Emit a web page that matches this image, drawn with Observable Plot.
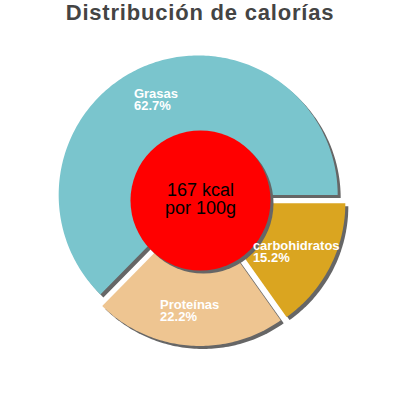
<!DOCTYPE html>
<html>
<head>
<meta charset="utf-8">
<script src="https://cdn.jsdelivr.net/npm/d3@7"></script>
<script src="https://cdn.jsdelivr.net/npm/@observablehq/plot@0.6"></script>
<style>
  html, body { margin: 0; padding: 0; background: #fff; }
  #title { height: 33px; line-height: 33px; text-align: center; font: bold 22px "Liberation Sans", Arial, sans-serif; letter-spacing: 0.8px; color: #444; white-space: nowrap; }
  #chart svg { display: block; }
</style>
</head>
<body>
<div id="title"></div>
<div id="chart"></div>
<script>
const titleText = "Distribución de calorías";
const categories = ["Grasas", "Proteínas", "carbohidratos"];
const percents = [62.7, 22.2, 15.2];
const colors = ["#7AC5CD", "#EEC591", "#DAA520"];
const centerLines = ["167 kcal", "por 100g"];

document.getElementById("title").textContent = titleText;

const FONT = '"Liberation Sans", Arial, sans-serif';
const R = 139.5, explode = 6, labelR = 110, innerR = 70;

const pie = d3.pie().sort(null).startAngle(Math.PI / 2).endAngle(Math.PI / 2 - 2 * Math.PI);
const arcs = pie(percents);

const ctx = document.createElement("canvas").getContext("2d");
ctx.font = `bold 13px ${FONT}`;

const slicePts = [];
const labels = [];
arcs.forEach((a, i) => {
  const name = categories[i];
  const mid = (a.startAngle + a.endAngle) / 2;
  const ox = explode * Math.sin(mid), oy = -explode * Math.cos(mid);
  slicePts.push({name, x: ox, y: oy});
  const n = Math.ceil(Math.abs(a.endAngle - a.startAngle) / (Math.PI / 180));
  for (let k = 0; k <= n; k++) {
    const t = a.startAngle + (a.endAngle - a.startAngle) * k / n;
    slicePts.push({name, x: ox + R * Math.sin(t), y: oy - R * Math.cos(t)});
  }
  const pct = percents[i].toFixed(1) + "%";
  const w = Math.max(ctx.measureText(name).width, ctx.measureText(pct).width);
  const cx = labelR * Math.sin(mid), cy = -labelR * Math.cos(mid);
  labels.push({text: name + "\n" + pct, lx: cx - w / 2, cy});
});

const center = [{x: 0, y: 0, text: centerLines.join("\n")}];

const chart = Plot.plot({
  width: 400,
  height: 367,
  margin: 0,
  x: {domain: [-200, 200], axis: null},
  y: {domain: [-167, 200], range: [0, 367], axis: null},
  color: {domain: categories, range: colors},
  marks: [
    Plot.line(slicePts, {x: "x", y: "y", z: "name", fill: "#666", stroke: "none", dx: 3, dy: 3}),
    Plot.line(slicePts, {x: "x", y: "y", z: "name", fill: "name", stroke: "none"}),
    Plot.dot(center, {x: "x", y: "y", r: innerR, fill: "#666", stroke: "none", dx: 3, dy: 3}),
    Plot.dot(center, {x: "x", y: "y", r: innerR, fill: "#FF0000", stroke: "none"}),
    Plot.text(labels, {x: "lx", y: "cy", text: "text", textAnchor: "start", lineAnchor: "bottom", lineHeight: 11.5 / 13, dx: -2, dy: 10.5, fill: "white", fontSize: 13, fontWeight: "bold", fontFamily: FONT}),
    Plot.text(center, {x: "x", y: "y", text: "text", lineAnchor: "bottom", lineHeight: 18.3 / 18, dy: 13.3, fill: "black", fontSize: 18, fontFamily: FONT})
  ]
});
document.getElementById("chart").appendChild(chart);
</script>
</body>
</html>
